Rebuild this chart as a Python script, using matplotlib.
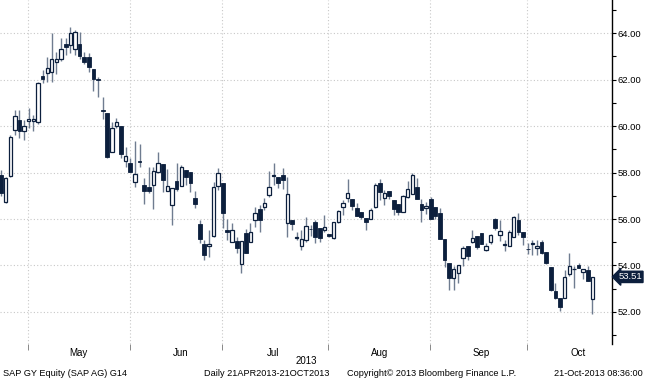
import numpy as np
import matplotlib
matplotlib.use("Agg")
import matplotlib.pyplot as plt
from matplotlib.ticker import FixedLocator, NullFormatter

plt.rcParams['font.family'] = ['Liberation Sans', 'DejaVu Sans']

# ── daily OHLC, SAP GY, 23 Apr - 21 Oct 2013 ───────────────────────────────
opens = [57.90, 56.73, 57.85, 59.83, 60.27, 59.79, 60.24, 60.20, 60.19, 62.16,
         62.30, 62.35, 62.78, 62.88, 63.54, 63.50, 63.31, 63.54, 62.99, 62.99,
         62.45, 62.02, 60.67, 60.56, 58.90, 60.00, 60.00, 58.51, 58.43, 57.60,
         58.47, 57.47, 57.37, 57.47, 58.04, 58.37, 57.22, 56.60, 57.65, 57.42,
         58.11, 58.04, 56.90, 55.79, 54.93, 54.85, 55.27, 57.42, 57.54, 55.53,
         55.03, 55.07, 54.06, 55.41, 55.03, 55.96, 56.42, 56.53, 57.04, 57.85,
         57.83, 57.90, 55.84, 55.96, 55.18, 54.84, 55.10, 55.57, 55.88, 55.60,
         55.53, 55.36, 55.17, 55.88, 56.50, 56.89, 56.85, 56.46, 56.32, 56.06,
         55.99, 56.53, 57.54, 56.89, 57.22, 56.82, 56.65, 56.30, 56.96, 57.07,
         57.37, 56.65, 56.46, 56.85, 56.50, 56.27, 55.13, 54.09, 53.45, 53.66,
         54.31, 54.84, 55.03, 55.27, 55.39, 54.67, 55.03, 55.99, 55.31, 54.90,
         54.84, 55.21, 55.96, 55.46, 54.71, 54.92, 54.74, 55.03, 54.60, 53.92,
         52.91, 52.59, 52.59, 53.63, 53.83, 54.02, 53.70, 53.81, 52.54]
highs = [58.10, 57.80, 59.60, 60.70, 60.70, 60.27, 60.80, 60.50, 61.90, 62.42,
         62.97, 64.00, 63.20, 63.78, 63.78, 64.28, 64.14, 64.07, 63.20, 63.14,
         62.45, 62.13, 61.27, 60.58, 60.19, 60.34, 60.00, 59.09, 58.62, 59.38,
         59.23, 57.76, 58.26, 58.23, 58.90, 58.37, 58.14, 57.32, 58.40, 58.33,
         58.11, 58.04, 57.22, 55.96, 55.10, 55.53, 57.61, 58.18, 57.54, 55.99,
         55.82, 55.24, 55.07, 55.56, 55.84, 56.53, 56.60, 56.89, 58.08, 58.43,
         57.83, 58.18, 57.83, 55.96, 55.46, 55.53, 56.10, 55.74, 55.96, 55.60,
         56.17, 55.36, 55.88, 56.39, 56.82, 57.71, 56.85, 56.68, 56.32, 56.06,
         56.46, 57.54, 57.71, 57.25, 57.22, 56.82, 56.65, 57.04, 57.65, 58.00,
         57.76, 56.85, 56.75, 56.94, 56.50, 56.46, 55.13, 54.09, 53.98, 54.02,
         54.84, 54.84, 55.53, 55.27, 55.39, 54.96, 55.36, 56.03, 55.96, 55.10,
         55.53, 56.13, 56.24, 55.46, 54.96, 55.10, 55.10, 55.10, 54.60, 53.92,
         53.23, 52.59, 53.81, 54.52, 53.98, 54.12, 53.84, 53.98, 53.51]
lows = [57.00, 56.70, 57.80, 59.60, 59.50, 59.40, 59.90, 59.80, 60.10, 61.85,
        61.92, 61.90, 62.25, 62.82, 63.07, 63.14, 63.07, 62.88, 62.67, 62.35,
        61.50, 61.27, 60.30, 58.62, 58.90, 59.91, 58.62, 58.23, 58.04, 57.37,
        58.23, 56.65, 57.14, 56.42, 57.97, 57.18, 57.22, 55.74, 57.22, 57.42,
        57.47, 57.18, 56.46, 54.96, 54.24, 54.38, 55.24, 57.25, 55.60, 55.10,
        55.03, 54.52, 53.66, 54.55, 55.03, 55.64, 55.46, 56.39, 56.94, 57.47,
        57.32, 57.28, 55.24, 55.53, 55.10, 54.67, 55.03, 55.27, 54.98, 55.03,
        55.46, 55.21, 55.13, 55.82, 56.17, 56.75, 56.39, 56.13, 55.99, 55.53,
        55.99, 56.46, 56.82, 56.60, 56.85, 56.17, 56.17, 56.30, 56.89, 57.07,
        56.85, 55.89, 56.22, 55.99, 55.99, 55.13, 53.92, 52.94, 52.94, 53.26,
        53.98, 54.24, 54.98, 54.70, 54.93, 54.64, 54.93, 55.53, 55.07, 54.64,
        54.84, 55.21, 55.31, 54.88, 54.50, 54.45, 54.45, 54.50, 54.06, 52.91,
        52.54, 52.05, 52.59, 53.55, 53.02, 53.88, 53.41, 53.34, 51.91]
closes = [57.10, 57.77, 59.55, 60.44, 59.79, 60.00, 60.30, 60.30, 61.87, 62.04,
          62.52, 62.88, 62.88, 63.31, 63.40, 64.03, 64.07, 63.02, 62.78, 62.56,
          62.02, 62.00, 60.65, 58.69, 59.91, 60.19, 58.80, 58.71, 58.04, 57.94,
          58.45, 57.22, 57.22, 58.08, 58.43, 57.68, 57.42, 57.32, 57.28, 58.23,
          57.80, 57.57, 56.65, 55.13, 54.45, 54.93, 57.40, 58.00, 56.27, 55.44,
          55.53, 54.74, 55.07, 54.55, 55.46, 56.27, 55.96, 56.70, 57.37, 57.87,
          57.57, 57.68, 57.08, 55.79, 55.22, 55.13, 55.70, 55.55, 55.21, 55.17,
          55.64, 55.27, 55.88, 56.34, 56.70, 57.11, 56.56, 56.13, 56.10, 55.88,
          56.39, 57.47, 57.18, 57.14, 56.99, 56.42, 56.32, 56.99, 57.28, 57.90,
          56.85, 56.39, 56.56, 55.99, 56.13, 55.13, 54.24, 53.45, 53.84, 54.02,
          54.74, 54.41, 55.17, 54.78, 54.93, 54.84, 55.31, 55.60, 55.50, 54.92,
          55.46, 56.08, 55.46, 55.21, 54.69, 54.94, 54.84, 54.55, 54.12, 52.94,
          52.59, 52.23, 53.49, 53.98, 53.85, 53.88, 53.84, 53.34, 53.51]

month_names = ['May', 'Jun', 'Jul', 'Aug', 'Sep', 'Oct']
month_starts = [6, 28, 48, 71, 93, 114]   # index of first trading day
price_ticks = [52, 54, 56, 58, 60, 62, 64]
last_price = 53.51

NAVY = '#0c1f3d'
WICK = '#6f7c90'
GRID = '#c8c8c8'

o = np.array(opens); h = np.array(highs); l = np.array(lows); c = np.array(closes)
x = np.arange(len(o))
up = c >= o

fig = plt.figure(figsize=(6.45, 3.8), dpi=100)
ax = fig.add_axes([0, 36 / 380, 612 / 645, 344 / 380])

# grid
bounds = [m - 0.15 for m in month_starts]
for yv in price_ticks:
    ax.axhline(yv, color=GRID, lw=0.8, ls=(0, (1, 2)), zorder=0)
for b in bounds:
    ax.axvline(b, color=GRID, lw=0.8, ls=(0, (1, 2)), zorder=0)

# candles
ax.vlines(x, l, h, color=WICK, lw=1.0, zorder=1)
body = np.maximum(np.abs(c - o), 0.04)
bottom = np.minimum(o, c)
ax.bar(x[up], body[up], bottom=bottom[up], width=0.72,
       facecolor='white', edgecolor=NAVY, linewidth=0.9, zorder=2)
ax.bar(x[~up], body[~up], bottom=bottom[~up], width=0.82,
       facecolor=NAVY, edgecolor=NAVY, linewidth=0.6, zorder=2)

ax.set_xlim(-0.216, 132.25)
ax.set_ylim(50.62, 65.43)

# axes
for s in ['top', 'left', 'bottom']:
    ax.spines[s].set_visible(False)
ax.spines['right'].set_color('black')
ax.spines['right'].set_linewidth(1.0)

ax.yaxis.tick_right()
ax.set_yticks(price_ticks)
ax.set_yticklabels([f'{v:.2f}' for v in price_ticks], fontsize=6.8)
ax.yaxis.set_minor_locator(FixedLocator([v + 1 for v in price_ticks[:-1]] + [51, 65]))
ax.tick_params(axis='y', which='major', length=3, width=0.8, pad=1, direction='out')
ax.tick_params(axis='y', which='minor', length=3, width=0.8, direction='out')

ax.xaxis.set_major_locator(FixedLocator(bounds))
ax.xaxis.set_major_formatter(NullFormatter())
ax.xaxis.set_minor_locator(FixedLocator([b + 11 for b in bounds]))
ax.set_xticklabels(month_names, minor=True, fontsize=7)
ax.tick_params(axis='x', which='major', length=4, width=0.7, color='#888888')
ax.tick_params(axis='x', which='minor', length=0, pad=3)

# last price marker
ax.annotate(f'{last_price:.2f}', xy=(1.0, last_price), xycoords=('axes fraction', 'data'),
            xytext=(4.5, 0), textcoords='offset points', va='center', ha='left',
            fontsize=6.8, color='white',
            bbox=dict(boxstyle='larrow,pad=0.12', fc=NAVY, ec=NAVY))

# footer text
fig.text(306 / 645, 1 - 361 / 380, '2013', ha='center', va='center', fontsize=7)
fy = 1 - 374 / 380
fig.text(3 / 645, fy, 'SAP GY Equity (SAP AG) G14', ha='left', va='center', fontsize=6.6)
fig.text(267 / 645, fy, 'Daily 21APR2013-21OCT2013', ha='center', va='center', fontsize=6.6)
fig.text(432 / 645, fy, 'Copyright\u00a9 2013 Bloomberg Finance L.P.', ha='center', va='center', fontsize=6.6)
fig.text(643 / 645, fy, '21-Oct-2013 08:36:00', ha='right', va='center', fontsize=6.6)

fig.savefig('out.png', dpi=100)
